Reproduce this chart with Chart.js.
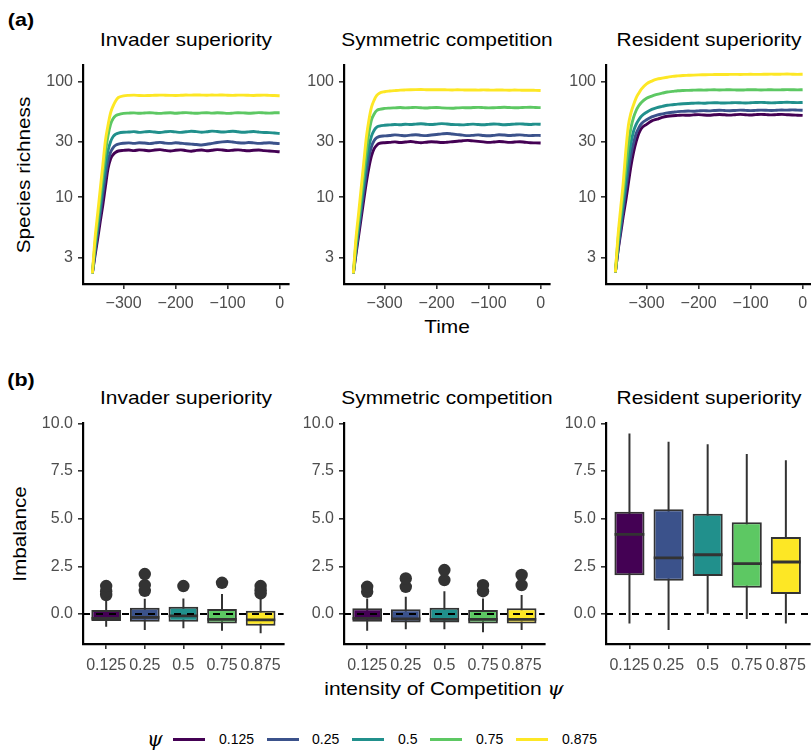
<!DOCTYPE html>
<html><head><meta charset="utf-8">
<script src="https://cdn.jsdelivr.net/npm/chart.js@4.4.1/dist/chart.umd.min.js"></script>
<style>
html,body{margin:0;padding:0;}
body{width:811px;height:753px;overflow:hidden;background:#fff;position:relative;font-family:"Liberation Sans",Arial,sans-serif;}
canvas{position:absolute;}
.t{position:absolute;white-space:nowrap;color:#000;line-height:1;font-size:18.5px;}
.c{transform:translate(-50%,-50%) scaleX(1.13);}
.v{transform:translate(-50%,-50%) rotate(-90deg) scaleX(1.12);}
.tag{font-weight:bold;font-size:19px;}
.psi{font-family:"DejaVu Serif",serif;font-style:italic;}
.leg{position:absolute;height:3px;width:32px;top:738px;}
.lt{position:absolute;font-size:14px;line-height:1;top:732px;color:#000;}
</style></head><body>
<div class="t c tag" style="left:21px;top:19px">(a)</div>
<div class="t c tag" style="left:21px;top:379px">(b)</div>
<div class="t c" style="left:186px;top:40px">Invader superiority</div>
<div class="t c" style="left:447px;top:40px">Symmetric competition</div>
<div class="t c" style="left:709px;top:40px">Resident superiority</div>
<div class="t c" style="left:186px;top:398px">Invader superiority</div>
<div class="t c" style="left:447px;top:398px">Symmetric competition</div>
<div class="t c" style="left:709px;top:398px">Resident superiority</div>
<div class="t v" style="left:24px;top:175px">Species richness</div>
<div class="t v" style="left:20px;top:534px">Imbalance</div>
<div class="t c" style="left:447px;top:327px">Time</div>
<div class="t c" style="left:444px;top:689px">intensity of Competition <span class="psi">ψ</span></div>
<div class="t psi" style="left:147px;top:729px;font-size:20px;">ψ</div>
<div id="legend"></div>
<script>
// ---------- DATA ----------
const times = [-360,-355,-350,-345,-340,-335,-330,-325,-320,-315,-310,-300,
  -290,-280,-270,-260,-250,-240,-230,-220,-210,-200,-190,-180,-170,-160,-150,
  -140,-130,-120,-110,-100,-90,-80,-70,-60,-50,-40,-30,-20,-10,0];
const psiLabels = ["0.125","0.25","0.5","0.75","0.875"];
const psiColors = ["#440154","#3B528B","#21908C","#5DC863","#FDE725"];
const panelTitles = ["Invader superiority","Symmetric competition","Resident superiority"];

// Invader superiority: species richness
const inv125 = [2.2,3.1,4.3,6.1,8.5,12.3,17.6,21.4,23.4,24.5,25.1,25.4,
  25.6,25.3,25.7,25.5,25.2,25.6,25.8,25.4,25.1,25.5,25.7,25.3,25.0,25.4,25.6,25.2,25.5,25.8,25.6,25.3,25.5,25.7,25.4,25.2,25.5,25.6,25.3,25.1,24.9,24.7];
const inv25 = [2.2,3.3,4.9,7.2,10.5,15.1,20.4,24.5,26.9,28.2,28.8,29.3,
  29.5,29.2,29.6,29.4,29.1,29.5,29.8,29.4,29.2,29.6,29.3,29.0,28.8,28.6,28.3,28.7,29.2,29.7,30.1,30.3,30.0,29.6,29.4,29.7,29.5,29.2,29.4,29.6,29.3,29.1];
const inv5 = [2.2,3.6,5.5,8.3,12.6,18.6,25.1,30.2,33.5,35.1,35.9,36.5,
  36.6,36.9,36.4,36.7,37.0,36.6,36.3,36.8,37.1,36.7,36.4,36.8,37.2,36.9,36.5,36.8,37.3,37.0,36.6,36.9,37.2,36.8,36.5,36.7,37.0,36.6,36.3,36.2,35.9,35.6];
const inv75 = [2.2,3.9,6.2,9.8,15.5,24,33.9,42.7,47.9,50.7,51.9,53.1,
  53.4,53.6,53.2,53.5,53.8,53.4,53.1,53.5,53.7,53.3,53.6,53.9,53.5,53.2,53.6,53.8,53.4,53.7,53.5,53.1,53.4,53.8,53.6,53.3,53.5,53.9,53.6,53.4,53.7,53.8];
const inv875 = [2.2,4.35,7.1,11.6,18.8,30.7,41.7,53.7,61.7,68.4,72.8,75.2,
  76.0,76.3,75.8,75.6,75.9,76.1,76.4,76.2,76.0,75.8,76.1,76.5,76.3,76.6,76.4,76.2,76.5,76.3,76.6,76.2,76.0,76.4,76.3,76.1,75.9,76.2,76.4,76.0,75.7,75.4];

// Symmetric competition: species richness
const sym125 = [2.2,3.2,4.6,6.6,9.5,13.5,18.2,22.9,26.3,28.2,29.2,29.6,
  29.8,30.1,29.7,30.0,30.3,29.9,29.6,29.9,30.2,30.0,29.7,29.9,30.2,30.5,30.8,31.0,30.7,30.4,30.1,29.8,30.0,30.3,30.1,29.8,30.0,30.2,29.9,29.6,29.5,29.4];
const sym25 = [2.2,3.4,5.1,7.6,11.2,16.2,22.4,27.5,30.9,32.7,33.5,33.9,
  34.2,34.6,34.3,34.0,34.4,34.7,34.3,34.1,34.5,34.9,35.3,35.6,35.2,34.8,34.4,34.1,34.3,34.6,34.2,34.0,34.3,34.7,34.5,34.2,34.4,34.6,34.3,34.1,34.3,34.2];
const sym5 = [2.2,3.6,5.6,8.7,13.2,20,27.5,33.9,38,40.3,41.2,41.9,
  42.2,42.6,42.3,42.8,42.5,42.9,43.2,42.8,42.5,42.9,43.3,43.0,42.6,42.4,42.2,42.6,42.9,42.5,42.3,42.7,43.0,42.7,42.4,42.6,42.9,43.1,42.8,42.6,42.9,42.7];
const sym75 = [2.2,4.0,6.3,10,15.8,25.1,36.3,46.8,52.5,56.2,57.5,58.6,
  59.0,59.3,59.6,59.2,59.5,59.8,59.4,59.1,59.5,59.7,59.3,59.0,58.8,59.2,59.5,59.3,59.6,59.8,59.5,59.2,59.4,59.7,59.9,59.6,59.3,59.5,59.8,60.0,59.7,59.5];
const sym875 = [2.2,4.4,7.2,12,20,33,46.8,60.3,69.2,75.9,79.4,81.7,
  82.8,83.6,84.3,84.7,85.0,85.2,85.3,85.1,85.0,84.9,85.1,84.8,84.6,84.9,84.7,84.5,84.6,84.4,84.7,84.5,84.3,84.6,84.4,84.2,84.5,84.3,84.1,84.2,84.0,83.8];

// Resident superiority: species richness
const res125 = [2.24,3.4,4.8,6.8,9.3,13.2,18.6,24.5,30.2,35.5,39.4,42.7,
  45.7,47.3,49,50.1,50.7,51.0,51.3,51.1,51.5,51.8,51.4,51.2,51.6,51.9,51.6,51.3,51.7,52.0,51.7,51.4,51.8,52.1,51.8,51.5,51.8,52.0,51.7,51.4,51.2,51.0];
const res25 = [2.24,3.5,5.2,7.8,11.5,17,23.4,29.5,35.5,39.8,43.2,46.8,
  49.5,51.3,52.5,53.7,54.3,55.0,55.3,55.6,55.4,55.8,56.1,55.8,56.2,56.5,56.2,56.0,56.3,56.6,56.4,56.1,56.4,56.7,56.5,56.2,56.5,56.8,56.6,56.9,56.7,56.5];
const res5 = [2.24,3.8,5.9,8.9,13.8,21.4,29.5,37.2,42.7,46.8,50.1,54.3,
  57.5,59.6,61,62.4,63.1,63.8,64.3,64.7,65.0,65.3,65.0,65.4,65.7,65.4,65.2,65.5,65.8,65.6,65.3,65.6,65.9,66.1,65.8,65.5,65.7,66.0,66.3,66.0,65.8,66.0];
const res75 = [2.24,4.2,6.8,10.7,17.8,28.2,39.8,49,56.2,61.7,66,71.6,
  75,77.6,79.4,81.3,82.2,83.2,83.7,84.0,84.3,84.6,84.4,84.7,84.9,84.6,84.8,85.0,84.7,84.5,84.8,85.1,84.9,84.6,84.8,85.0,84.7,84.9,85.2,85.0,84.8,85.0];
const res875 = [2.24,4.6,7.9,13.2,25,41.7,53.7,63,72.4,79.4,86,95.5,
  101,105,107,109,111,112,112.8,113.3,113.8,114.2,114.5,114.8,115.0,115.2,115.1,115.3,115.5,115.2,115.4,115.6,115.3,115.5,115.8,116.0,115.7,115.9,116.2,115.8,115.5,115.6];

// Imbalance box plots (per psi: 0.125, 0.25, 0.5, 0.75, 0.875)
const invLo  = [-0.66,-0.84,-0.75,-0.87,-1.01];
const invQ1  = [-0.37,-0.40,-0.40,-0.49,-0.61];
const invMed = [-0.23,-0.17,-0.10,-0.28,-0.31];
const invQ3  = [0.21,0.33,0.38,0.26,0.17];
const invHi  = [0.85,0.80,0.82,1.05,0.80];
const invOut = [[1.0,1.2,1.47],[1.22,1.52,2.1],[1.47],[1.64],[1.08,1.25,1.47]];

const symLo  = [-0.87,-0.79,-0.79,-0.96,-0.84];
const symQ1  = [-0.40,-0.44,-0.44,-0.49,-0.49];
const symMed = [-0.23,-0.26,-0.28,-0.28,-0.28];
const symQ3  = [0.30,0.25,0.33,0.21,0.30];
const symHi  = [0.82,0.91,1.20,0.82,1.00];
const symOut = [[1.17,1.43],[1.43,1.87],[1.78,2.31],[1.2,1.52],[1.52,2.05]];

const resLo  = [-0.49,-0.84,0.02,-0.26,-0.49];
const resQ1  = [2.04,1.75,1.99,1.38,1.05];
const resMed = [4.18,2.95,3.11,2.64,2.73];
const resQ3  = [5.36,5.50,5.26,4.81,4.04];
const resHi  = [9.47,9.04,8.90,8.39,8.07];
const resOut = [[],[],[],[],[]];

const xTicksTop = [-300,-200,-100,0];
const yTicksTop = [3,10,30,100];
const yTicksBottom = [0,2.5,5,7.5,10];

// ---------- RENDER ----------
const richness = [
  [inv125,inv25,inv5,inv75,inv875],
  [sym125,sym25,sym5,sym75,sym875],
  [res125,res25,res5,res75,res875]
];
const boxes = [
  {lo:invLo,q1:invQ1,med:invMed,q3:invQ3,hi:invHi,out:invOut},
  {lo:symLo,q1:symQ1,med:symMed,q3:symQ3,hi:symHi,out:symOut},
  {lo:resLo,q1:resQ1,med:resMed,q3:resQ3,hi:resHi,out:resOut}
];
const canvasLeft = [0,261,523];
const tickFont = {family:"Liberation Sans", size:16};
const tickColor = "#4D4D4D";
const minus = v => (v < 0 ? "\u2212" + Math.abs(v) : String(v));

function mkCanvas(left, top, w, h){
  const c = document.createElement('canvas');
  c.width = w; c.height = h;
  c.style.left = left + 'px'; c.style.top = top + 'px';
  c.style.width = w + 'px'; c.style.height = h + 'px';
  document.body.appendChild(c);
  return c;
}
function axisCommon(){
  return {
    grid:{display:true, drawOnChartArea:false, offset:false, color:'#333333', lineWidth:1.6, tickLength:5},
    border:{display:true, color:'#000', width:2.2},
    ticks:{color:tickColor, font:tickFont, padding:5, autoSkip:false, maxRotation:0, minRotation:0}
  };
}

Chart.defaults.animation = false;

for (let p = 0; p < 3; p++){
  // top: species richness over time (log scale)
  const c1 = mkCanvas(canvasLeft[p], 50, 290, 290);
  const ds = richness[p].map((s,i) => ({
    data: times.map((t,k) => ({x:t, y:s[k]})),
    borderColor: psiColors[i], borderWidth: 2.9, pointRadius: 0,
    cubicInterpolationMode: 'monotone', order: 4 - i, fill:false
  }));
  const xa = axisCommon(), ya = axisCommon();
  new Chart(c1, {
    type:'line',
    data:{datasets:ds},
    options:{
      responsive:false, animation:false, devicePixelRatio:1,
      layout:{padding:{top:14,bottom:26,left:0,right:1}},
      plugins:{legend:{display:false}, tooltip:{enabled:false}},
      scales:{
        x:Object.assign(xa,{type:'linear', min:-378, max:18,
          afterBuildTicks:s=>{s.ticks = xTicksTop.map(v=>({value:v}));},
          afterFit:s=>{s.height = 30;},
          ticks:Object.assign(xa.ticks,{padding:5, callback:v=>minus(v)})}),
        y:Object.assign(ya,{type:'logarithmic', min:1.778, max:140.2,
          afterBuildTicks:s=>{s.ticks = yTicksTop.map(v=>({value:v}));},
          afterFit:s=>{s.width = 83;},
          ticks:Object.assign(ya.ticks,{callback:v=>String(v)})})
      }
    }
  });

  // bottom: imbalance boxplots
  const b = boxes[p];
  const c2 = mkCanvas(canvasLeft[p], 400, 290, 290);
  const half = 0.38;
  const whisk = [], meds = [], outs = [];
  psiLabels.forEach((lab,i) => {
    const x = i + 1;
    whisk.push({x:x,y:b.lo[i]},{x:x,y:b.hi[i]},{x:x,y:null});
    meds.push({x:x-half,y:b.med[i]},{x:x+half,y:b.med[i]},{x:x+half,y:null});
    b.out[i].forEach(v => outs.push({x:x,y:v}));
  });
  const xb = axisCommon(), yb = axisCommon();
  new Chart(c2, {
    type:'bar',
    data:{datasets:[
      {type:'line', data:[{x:0.4,y:0},{x:5.6,y:0}], borderColor:'#000', borderWidth:2, borderDash:[7,6], pointRadius:0, order:0},
      {type:'scatter', data:outs, backgroundColor:'#333333', borderWidth:0, pointRadius:6.2, pointHoverRadius:6.2, order:1},
      {type:'line', data:meds, borderColor:'#333333', borderWidth:2.8, pointRadius:0, spanGaps:false, order:2},
      {type:'bar', data:psiLabels.map((l,i)=>({x:i+1, y:[b.q1[i], b.q3[i]]})),
        backgroundColor:psiColors, borderColor:'#333333', borderWidth:2, borderSkipped:false,
        barPercentage:0.77, categoryPercentage:1.0, order:3},
      {type:'line', data:whisk, borderColor:'#333333', borderWidth:2, pointRadius:0, spanGaps:false, order:4}
    ]},
    options:{
      responsive:false, animation:false, devicePixelRatio:1,
      layout:{padding:{top:23,bottom:16,left:0,right:1}},
      plugins:{legend:{display:false}, tooltip:{enabled:false}},
      scales:{
        x:Object.assign(xb,{type:'linear', offset:false, min:0.4, max:5.6,
          afterBuildTicks:s=>{s.ticks = psiLabels.map((l,i)=>({value:i+1}));},
          afterFit:s=>{s.height = 30;},
          ticks:Object.assign(xb.ticks,{padding:7, callback:v=>psiLabels[Math.round(v)-1]})}),
        y:Object.assign(yb,{type:'linear', beginAtZero:false, min:-1.57, max:10.02,
          afterBuildTicks:s=>{s.ticks = yTicksBottom.map(v=>({value:v}));},
          afterFit:s=>{s.width = 83;},
          ticks:Object.assign(yb.ticks,{callback:v=>Number(v).toFixed(1)})})
      }
    }
  });
}

// legend
const legLineX = [173,267,352,430,516];
const legTextX = [219,312,398,476,562];
const lg = document.getElementById('legend');
psiLabels.forEach((lab,i) => {
  const d = document.createElement('div');
  d.className = 'leg'; d.style.left = legLineX[i] + 'px'; d.style.background = psiColors[i];
  lg.appendChild(d);
  const t = document.createElement('div');
  t.className = 'lt'; t.style.left = legTextX[i] + 'px'; t.textContent = lab;
  lg.appendChild(t);
});
</script>
</body></html>
